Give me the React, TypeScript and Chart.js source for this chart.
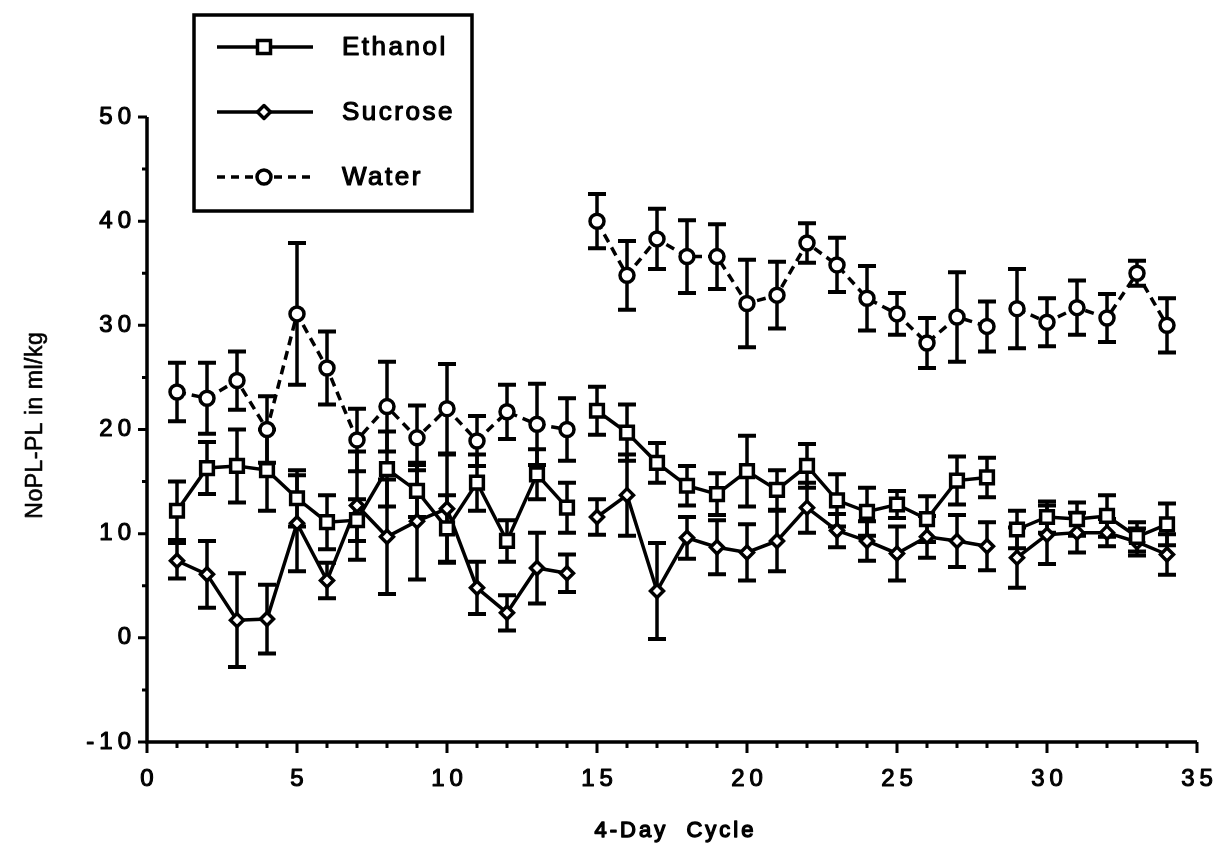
import { useEffect, useRef } from "react";
import { Chart, registerables } from "chart.js";

Chart.register(...registerables);

// 4-day cycles on the x axis
const cycles = [
  1, 2, 3, 4, 5, 6, 7, 8, 9, 10, 11, 12, 13, 14, 15, 16, 17,
  18, 19, 20, 21, 22, 23, 24, 25, 26, 27, 28, 29, 30, 31, 32, 33, 34,
];

// NoPL-PL (ml/kg), means and SEM per cycle
const ethanolMean = [
  12.2, 16.3, 16.5, 16.1, 13.4, 11.1, 11.3, 16.2, 14.1, 10.5, 14.9, 9.3, 15.7, 12.5,
  21.8, 19.7, 16.8, 14.6, 13.8, 16.0, 14.2, 16.5, 13.2, 12.1, 12.8, 11.4, 15.1, 15.4,
  10.4, 11.6, 11.4, 11.7, 9.7, 10.9,
];
const ethanolSem = [
  2.8, 2.5, 3.5, 3.9, 2.7, 2.6, 2.0, 3.6, 2.5, 3.2, 2.7, 2.0, 2.4, 2.4,
  2.3, 2.7, 1.9, 1.9, 2.0, 3.4, 1.9, 2.1, 2.5, 2.3, 1.3, 2.2, 2.3, 1.9,
  1.8, 1.5, 1.6, 2.0, 1.4, 2.0,
];

const sucroseMean = [
  7.4, 6.1, 1.7, 1.8, 11.0, 5.5, 12.7, 9.7, 11.2, 12.4, 4.8, 2.4, 6.7, 6.2,
  11.6, 13.7, 4.5, 9.6, 8.7, 8.2, 9.3, 12.5, 10.3, 9.3, 8.1, 9.7, 9.3, 8.8,
  7.7, 9.9, 10.1, 10.1, 9.2, 8.0,
];
const sucroseSem = [
  1.7, 3.2, 4.5, 3.3, 4.6, 1.7, 5.2, 5.5, 5.6, 5.2, 2.5, 1.7, 3.4, 1.8,
  1.7, 3.9, 4.6, 2.0, 2.6, 2.7, 2.9, 2.4, 1.6, 1.9, 2.6, 2.0, 2.5, 2.3,
  2.9, 2.8, 1.9, 1.3, 1.3, 1.95,
];

const waterMean = [
  23.6, 23.0, 24.7, 20.0, 31.1, 25.9, 19.0, 22.2, 19.2, 22.0, 18.9, 21.7, 20.5, 20.0,
  40.0, 34.8, 38.3, 36.6, 36.6, 32.1, 32.9, 37.9, 35.8, 32.6, 31.1, 28.3, 30.8, 29.9,
  31.6, 30.3, 31.7, 30.7, 35.0, 30.0,
];
const waterSem = [
  2.8, 3.4, 2.8, 3.2, 6.8, 3.5, 3.0, 4.3, 3.1, 4.3, 2.4, 2.6, 3.9, 3.0,
  2.6, 3.3, 2.9, 3.5, 3.1, 4.2, 3.2, 1.9, 2.6, 3.1, 2.0, 2.4, 4.3, 2.4,
  3.8, 2.3, 2.6, 2.3, 1.2, 2.6,
];

// last cycle of each phase: lines are not joined across these
const phaseEnds = [14, 28];

const xTickValues = [0, 5, 10, 15, 20, 25, 30, 35];
const yTickValues = [-10, 0, 10, 20, 30, 40, 50];

const seriesNames = ["Ethanol", "Sucrose", "Water"];

const FONT = '"Liberation Sans", Arial, Helvetica, sans-serif';

function buildPoints(mean: number[], sem: number[]) {
  const pts: { x: number; y: number | null; sem: number }[] = [];
  cycles.forEach((c, i) => {
    pts.push({ x: c, y: mean[i], sem: sem[i] });
    if (phaseEnds.includes(c)) pts.push({ x: c + 0.5, y: null, sem: 0 });
  });
  return pts;
}

function spacedText(
  ctx: CanvasRenderingContext2D,
  text: string,
  x: number,
  y: number,
  spacing: number,
  align: "left" | "center" | "right",
  weight = 1
) {
  (ctx as any).letterSpacing = spacing + "px";
  const w = ctx.measureText(text).width - spacing;
  let left = x;
  if (align === "center") left = x - w / 2;
  if (align === "right") left = x - w;
  ctx.textAlign = "left";
  ctx.fillText(text, left, y);
  ctx.lineWidth = weight;
  ctx.lineJoin = "round";
  ctx.strokeText(text, left, y);
  (ctx as any).letterSpacing = "0px";
}

// SEM whiskers with caps, drawn under the markers
const semBarsPlugin = {
  id: "semBars",
  beforeDatasetsDraw(chart: any) {
    const { ctx } = chart;
    const xs = chart.scales.x;
    const ys = chart.scales.y;
    ctx.save();
    ctx.strokeStyle = "#000";
    ctx.lineCap = "butt";
    chart.data.datasets.forEach((ds: any) => {
      ds.data.forEach((p: any) => {
        if (p.y === null) return;
        const px = xs.getPixelForValue(p.x);
        const top = ys.getPixelForValue(p.y + p.sem);
        const bot = ys.getPixelForValue(p.y - p.sem);
        ctx.lineWidth = 3.5;
        ctx.beginPath();
        ctx.moveTo(px, top);
        ctx.lineTo(px, bot);
        ctx.stroke();
        ctx.lineWidth = 4;
        ctx.beginPath();
        ctx.moveTo(px - 9, top);
        ctx.lineTo(px + 9, top);
        ctx.moveTo(px - 9, bot);
        ctx.lineTo(px + 9, bot);
        ctx.stroke();
      });
    });
    ctx.restore();
  },
};

// axis lines, major/minor ticks, tick labels and axis titles
const axesPlugin = {
  id: "paperAxes",
  afterDraw(chart: any) {
    const { ctx, chartArea } = chart;
    const xs = chart.scales.x;
    const ys = chart.scales.y;
    const left = chartArea.left;
    const bottom = chartArea.bottom;
    ctx.save();
    ctx.strokeStyle = "#000";
    ctx.fillStyle = "#000";
    ctx.lineWidth = 3.5;
    ctx.beginPath();
    ctx.moveTo(left, ys.getPixelForValue(50));
    ctx.lineTo(left, bottom);
    ctx.lineTo(xs.getPixelForValue(35), bottom);
    ctx.stroke();

    ctx.lineWidth = 3;
    ctx.beginPath();
    for (let v = -10; v <= 50; v += 5) {
      const py = ys.getPixelForValue(v);
      const len = v % 10 === 0 ? 9 : 5;
      ctx.moveTo(left - len, py);
      ctx.lineTo(left, py);
    }
    for (let v = 0; v <= 35; v += 1) {
      const px = xs.getPixelForValue(v);
      const len = v % 5 === 0 ? 11 : 6;
      ctx.moveTo(px, bottom);
      ctx.lineTo(px, bottom + len);
    }
    ctx.stroke();

    ctx.font = `24px ${FONT}`;
    ctx.textBaseline = "middle";
    ctx.strokeStyle = "#000";
    yTickValues.forEach((v) => {
      spacedText(ctx, String(v), left - 16, ys.getPixelForValue(v), 5, "right", 1.1);
    });
    xTickValues.forEach((v) => {
      spacedText(ctx, String(v), xs.getPixelForValue(v), bottom + 37, 5, "center", 1.1);
    });

    ctx.font = `22px ${FONT}`;
    spacedText(ctx, "4-Day  Cycle", (chartArea.left + chartArea.right) / 2 + 2, 831, 3, "center", 1.4);

    ctx.save();
    ctx.translate(36, (chartArea.top + chartArea.bottom) / 2 - 4);
    ctx.rotate(-Math.PI / 2);
    ctx.font = `23px ${FONT}`;
    spacedText(ctx, "NoPL-PL in ml/kg", 0, 0, 0.5, "center", 0.6);
    ctx.restore();
    ctx.restore();
  },
};

function drawMarker(ctx: CanvasRenderingContext2D, style: string, x: number, y: number) {
  ctx.beginPath();
  if (style === "rect") {
    ctx.rect(x - 6.5, y - 6.5, 13, 13);
  } else if (style === "rectRot") {
    ctx.moveTo(x - 6.5, y);
    ctx.lineTo(x, y - 6.5);
    ctx.lineTo(x + 6.5, y);
    ctx.lineTo(x, y + 6.5);
    ctx.closePath();
  } else {
    ctx.arc(x, y, 7, 0, Math.PI * 2);
  }
  ctx.fillStyle = "#fff";
  ctx.fill();
  ctx.lineWidth = 3.5;
  ctx.stroke();
}

// boxed legend in the upper left
const boxLegendPlugin = {
  id: "boxLegend",
  afterDraw(chart: any) {
    const { ctx } = chart;
    ctx.save();
    ctx.strokeStyle = "#000";
    ctx.lineWidth = 3.5;
    ctx.strokeRect(194, 15, 278, 196);
    const rows = [47, 112, 177];
    chart.data.datasets.forEach((ds: any, i: number) => {
      const y = rows[i];
      ctx.strokeStyle = "#000";
      ctx.lineWidth = 3.5;
      ctx.beginPath();
      if (ds.borderDash && ds.borderDash.length) {
        ctx.setLineDash([8, 6]);
        ctx.moveTo(217, y);
        ctx.lineTo(254, y);
        ctx.moveTo(274, y);
        ctx.lineTo(312, y);
      } else {
        ctx.moveTo(217, y);
        ctx.lineTo(313, y);
      }
      ctx.stroke();
      ctx.setLineDash([]);
      drawMarker(ctx, ds.pointStyle, 264, y);
      ctx.fillStyle = "#000";
      ctx.font = `26px ${FONT}`;
      ctx.textBaseline = "middle";
      spacedText(ctx, ds.label, 342, y + 1, 2.5, "left", 1.2);
    });
    ctx.restore();
  },
};

export default function App() {
  const canvasRef = useRef<HTMLCanvasElement | null>(null);

  useEffect(() => {
    document.body.style.margin = "0";
    const canvas = canvasRef.current;
    if (!canvas) return;

    const common = {
      borderColor: "#000",
      borderWidth: 3.5,
      pointBorderColor: "#000",
      pointBackgroundColor: "#fff",
      pointBorderWidth: 3.5,
      tension: 0,
      spanGaps: false,
      fill: false,
    };

    const chart = new Chart(canvas, {
      type: "line",
      data: {
        datasets: [
          {
            ...common,
            label: seriesNames[0],
            data: buildPoints(ethanolMean, ethanolSem),
            pointStyle: "rect",
            pointRadius: 9,
          },
          {
            ...common,
            label: seriesNames[1],
            data: buildPoints(sucroseMean, sucroseSem),
            pointStyle: "rectRot",
            pointRadius: 6.5,
          },
          {
            ...common,
            label: seriesNames[2],
            data: buildPoints(waterMean, waterSem),
            pointStyle: "circle",
            pointRadius: 7,
            borderDash: [9, 6],
          },
        ] as any,
      },
      options: {
        responsive: false,
        animation: false,
        devicePixelRatio: 1,
        layout: { padding: { left: 147, right: 22, top: 117, bottom: 111 } },
        plugins: {
          legend: { display: false },
          tooltip: { enabled: false },
        },
        scales: {
          x: { type: "linear", min: 0, max: 35, display: false },
          y: { type: "linear", min: -10, max: 50, display: false },
        },
      },
      plugins: [semBarsPlugin, axesPlugin, boxLegendPlugin],
    });

    return () => chart.destroy();
  }, []);

  return (
    <div style={{ width: 1219, height: 853, background: "#fff", overflow: "hidden" }}>
      <canvas ref={canvasRef} width={1219} height={853} style={{ display: "block" }} />
    </div>
  );
}
